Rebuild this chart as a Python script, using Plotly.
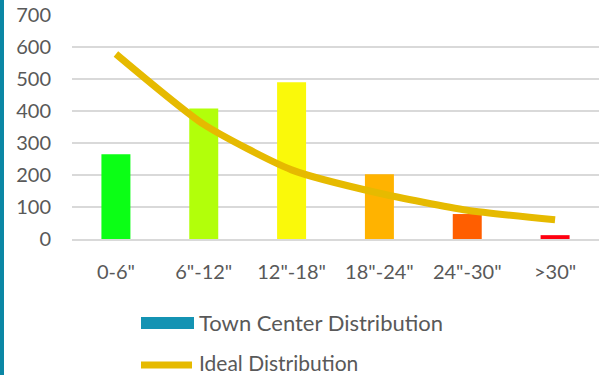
import plotly.graph_objects as go

categories = ['0-6"', '6"-12"', '12"-18"', '18"-24"', '24"-30"', '>30"']
town_center = [265, 408, 490, 202, 78, 12]
ideal = [578, 358, 216, 143, 90, 60]
bar_colors = ["#0BFF15", "#B2FF0A", "#FAF90A", "#FFB300", "#FF5E00", "#FF0010"]
y_ticks = [0, 100, 200, 300, 400, 500, 600, 700]

W, H = 599, 375
L, R, T, B = 72, 0, 15, 136
pw, ph = W - L - R, H - T - B

def px(x):
    return (x - L) / pw

def py(y):
    return (H - B - y) / ph

FONT = "Lato"
GRAY = "#595959"

fig = go.Figure()
fig.add_trace(go.Bar(
    x=categories, y=town_center, marker=dict(color=bar_colors, line=dict(width=0)),
    width=0.33, name="Town Center Distribution", showlegend=False,
))
fig.add_trace(go.Scatter(
    x=categories, y=ideal, mode="lines", line=dict(color="#E6BA00", width=7, shape="spline", smoothing=0.6),
    name="Ideal Distribution", showlegend=False,
))

shapes = [
    dict(type="rect", xref="paper", yref="paper", x0=px(0), x1=px(4), y0=py(H), y1=py(0),
         fillcolor="#0B87A5", line=dict(width=0), layer="above"),
    dict(type="rect", xref="paper", yref="paper", x0=px(141), x1=px(194), y0=py(329), y1=py(317),
         fillcolor="#1493B3", line=dict(width=0)),
    dict(type="line", xref="paper", yref="paper", x0=px(141), x1=px(192), y0=py(365), y1=py(365),
         line=dict(color="#E6BA00", width=7)),
]
annotations = [
    dict(text="Town Center Distribution", xref="paper", yref="paper", x=px(197), y=py(322),
         xanchor="left", yanchor="middle", showarrow=False, font=dict(family=FONT, size=22, color=GRAY)),
    dict(text="Ideal Distribution", xref="paper", yref="paper", x=px(197), y=py(362),
         xanchor="left", yanchor="middle", showarrow=False, font=dict(family=FONT, size=21, color=GRAY)),
]

fig.update_layout(
    width=W, height=H, margin=dict(l=L, r=R, t=T, b=B),
    paper_bgcolor="white", plot_bgcolor="white",
    font=dict(family=FONT, size=20, color=GRAY),
    bargap=0.67, shapes=shapes, annotations=annotations,
    xaxis=dict(showgrid=False, ticks="", showline=True, linecolor="#D9D9D9", linewidth=2,
               tickfont=dict(size=20), ticklabelstandoff=14),
    yaxis=dict(range=[0, 700], tickvals=y_ticks, showgrid=True, gridcolor="#D9D9D9", gridwidth=1.5,
               zeroline=False, showline=False, ticks="", tickfont=dict(size=20), ticklabelstandoff=20),
)

fig.write_html("out.html", config={"displayModeBar": False},
               post_script="document.body.style.margin='0';document.body.style.overflow='hidden';")
